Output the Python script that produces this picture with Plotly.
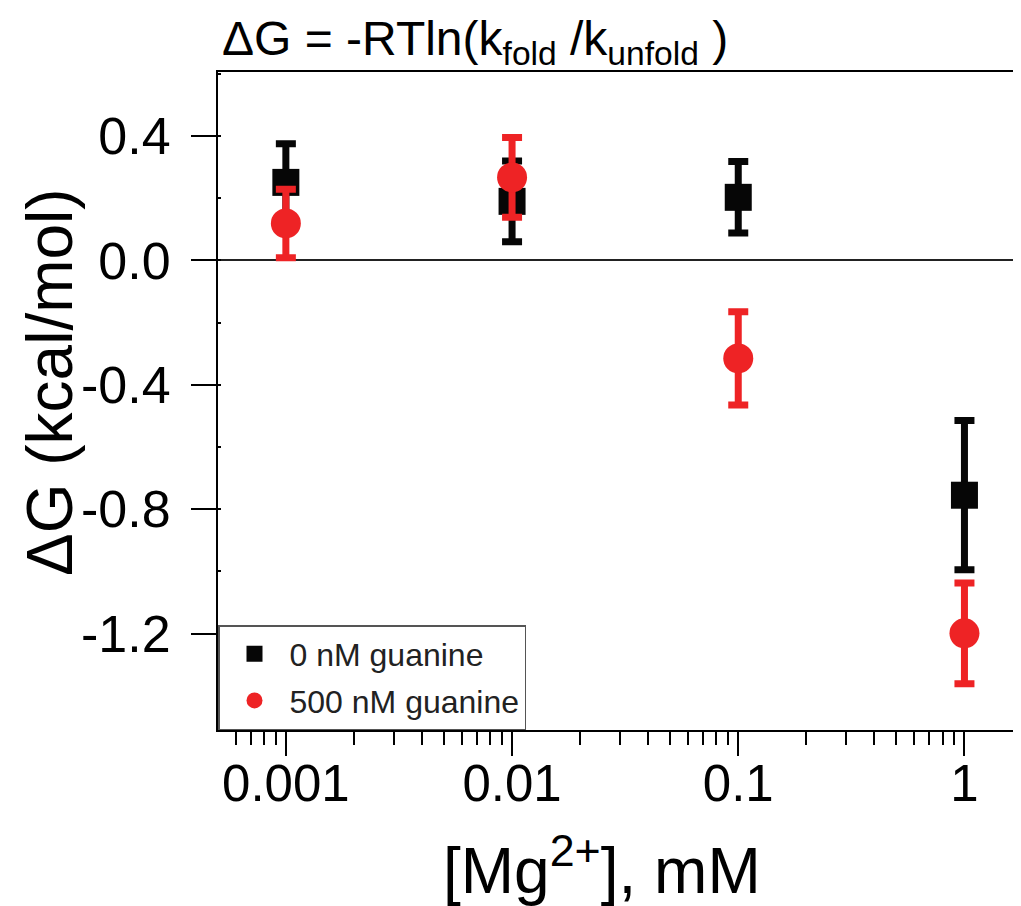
import plotly.graph_objects as go

# ---- data ----
mg_mM = [0.001, 0.01, 0.1, 1]
dg_0nM = [0.251, 0.19, 0.203, -0.755]
err_0nM = [0.124, 0.13, 0.115, 0.24]
dg_500nM = [0.119, 0.267, -0.315, -1.199]
err_500nM = [0.11, 0.128, 0.15, 0.162]

x_tickvals = [0.001, 0.01, 0.1, 1]
x_ticktext = ["0.001", "0.01", "0.1", "1"]
y_tickvals = [0.4, 0.0, -0.4, -0.8, -1.2]
y_ticktext = ["0.4", "0.0", "-0.4", "-0.8", "-1.2"]

BLACK = "#060606"
RED = "#EE2325"
FONT = "Liberation Sans, Arial, sans-serif"

W, H = 1013, 898
ML, MR, MT, MB = 210, 0, 64, 176
PW, PH = W - ML - MR, H - MT - MB

fig = go.Figure()
fig.add_trace(go.Scatter(
    x=mg_mM, y=dg_0nM, mode="markers", name="0 nM guanine",
    legendgroup="a",
    marker=dict(symbol="square", size=27, color=BLACK, line=dict(width=0)),
    error_y=dict(type="data", array=err_0nM, color=BLACK, thickness=7, width=10),
))
fig.add_trace(go.Scatter(
    x=mg_mM, y=dg_500nM, mode="markers", name="500 nM guanine",
    legendgroup="b",
    marker=dict(symbol="circle", size=30, color=RED, line=dict(width=0)),
    error_y=dict(type="data", array=err_500nM, color=RED, thickness=7, width=10),
))

fig.update_layout(
    width=W, height=H,
    margin=dict(l=ML, r=MR, t=MT, b=MB),
    paper_bgcolor="white", plot_bgcolor="white",
    font=dict(family=FONT, color="black"),
    title=dict(
        text="ΔG = -RTln(k<sub>fold</sub> /k<sub>unfold</sub> )",
        font=dict(size=48, family=FONT, color="black"),
        x=214 / W, xanchor="left", xref="container",
        y=1 - 30 / H, yanchor="middle", yref="container",
    ),
    showlegend=True,
    legend=dict(
        x=0, y=0, xanchor="left", yanchor="bottom",
        bgcolor="white", bordercolor="#555555", borderwidth=1.5,
        font=dict(size=32, family=FONT, color="#222222"),
        tracegroupgap=2, itemsizing="trace", itemwidth=60,
    ),
    annotations=[
        dict(text="[Mg<sup>2+</sup>], mM", xref="paper", yref="paper",
             x=384 / PW, y=0, xanchor="center", yanchor="middle", yshift=-136,
             showarrow=False, font=dict(size=64, family=FONT, color="black")),
        dict(text="ΔG (kcal/mol)", xref="paper", yref="paper", textangle=-90,
             x=0, y=0.5, xanchor="center", yanchor="middle",
             xshift=-(ML - 42), yshift=(MT + PH / 2) - 374,
             showarrow=False, font=dict(size=64, family=FONT, color="black")),
    ],
)

fig.update_xaxes(
    type="log", range=[-3.30, 0.25],
    tickmode="array", tickvals=x_tickvals, ticktext=x_ticktext,
    ticks="outside", ticklen=24, tickwidth=2, tickcolor="black",
    tickfont=dict(size=51, family=FONT, color="black"),
    ticklabelstandoff=-16,
    showline=True, linewidth=2, linecolor="black", mirror=True,
    showgrid=False, zeroline=False,
    minor=dict(ticks="outside", ticklen=13, tickwidth=2, tickcolor="black",
               tickmode="linear", dtick="D1", showgrid=False),
)
fig.update_yaxes(
    range=[-1.51, 0.606],
    tickmode="array", tickvals=y_tickvals, ticktext=y_ticktext,
    ticks="outside", ticklen=25, tickwidth=2, tickcolor="black",
    tickfont=dict(size=52, family=FONT, color="black"),
    ticklabelstandoff=10,
    showline=True, linewidth=2, linecolor="black",
    showgrid=False,
    zeroline=True, zerolinecolor="#222222", zerolinewidth=2,
    minor=dict(ticks="inside", ticklen=3, tickwidth=2, tickcolor="black",
               tickmode="linear", tick0=0, dtick=0.2, showgrid=False),
)

fig.write_html("out.html")
